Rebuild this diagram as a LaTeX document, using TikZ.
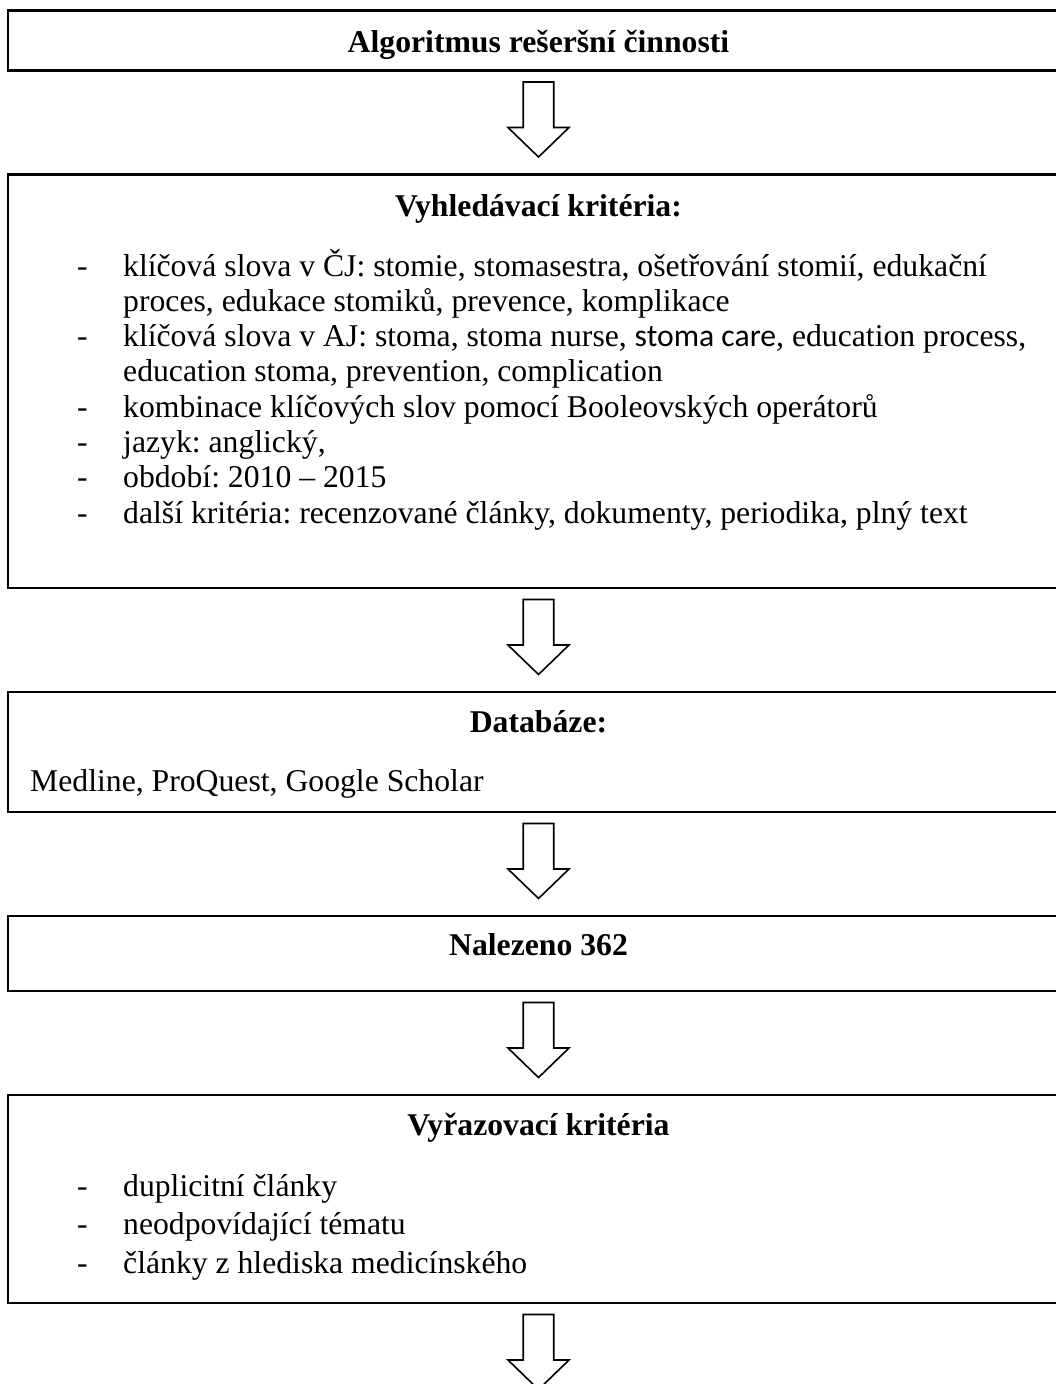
\documentclass[tikz,border=0pt]{standalone}
\usepackage{fontspec}
\setmainfont{Liberation Serif}
\newfontfamily\calibrifont{Carlito}
\usepackage{tikz}
\usetikzlibrary{positioning}
\frenchspacing

\begin{document}
\begin{tikzpicture}[x=1pt, y=1pt, node distance=104pt,
    box/.style={draw, line width=2.2pt, outer sep=0pt, inner sep=0pt, minimum width=1060.4pt},
    title/.style={anchor=base, inner sep=0pt, font=\fontsize{31.7}{35.3}\selectfont\bfseries},
    list/.style={anchor=base west, inner sep=0pt, font=\fontsize{31.7}{35.3}\selectfont},
    hollow/.style={draw, line width=1.6pt, line join=miter, fill=white}]
    \useasboundingbox (0,0) rectangle (1055,-1384);

    % Boxes
    \node [box, minimum height=60pt] (algo) at (538.5,-40.5) {};
    \node [box, minimum height=413.5pt, below=of algo] (krit) {};
    \node [box, minimum height=120pt, below=of krit] (db) {};
    \node [box, minimum height=75pt, below=of db] (nal) {};
    \node [box, minimum height=208pt, below=of nal] (vyr) {};

    % Titles
    \path (algo.north) ++(0,-41.5) node [title] (algoT) {Algoritmus rešeršní činnosti};
    \path (krit.north) ++(0,-42) node [title] (kritT) {Vyhledávací kritéria:};
    \path (db.north) ++(0,-40) node [title] (dbT) {Databáze:};
    \path (nal.north) ++(0,-39) node [title] (nalT) {Nalezeno 362};
    \path (vyr.north) ++(0,-40) node [title] (vyrT) {Vyřazovací kritéria};

    % Lists
    \path (krit.north west) ++(68.7,-101.5) node [list] (kritL) {%
      \begin{tabular}[t]{@{}p{46pt}@{}l@{}}
        - & klíčová slova v ČJ: stomie, stomasestra, ošetřování stomií, edukační\\
          & proces, edukace stomiků, prevence, komplikace\\
        - & klíčová slova v AJ: stoma, stoma nurse, {\calibrifont stoma care}, education process,\\
          & education stoma, prevention, complication\\
        - & kombinace klíčových slov pomocí Booleovských operátorů\\
        - & jazyk: anglický,\\
        - & období: 2010 – 2015\\
        - & další kritéria: recenzované články, dokumenty, periodika, plný text
      \end{tabular}};
    \path (db.north west) ++(21.7,-99.7) node [list] (dbL) {Medline, ProQuest, Google Scholar};
    \path (vyr.north west) ++(68.7,-101) node [list, font=\fontsize{31.7}{38.5}\selectfont] (vyrL) {%
      \begin{tabular}[t]{@{}p{46pt}@{}l@{}}
        - & duplicitní články\\
        - & neodpovídající tématu\\
        - & články z hlediska medicínského
      \end{tabular}};

    % Hollow arrows
    \foreach \b in {algo,krit,db,nal,vyr}
      \draw [hollow] (\b.south) ++(-15.25,-11.5) -- ++(0,-45.5) -- ++(-15.25,0)
        -- ++(30.5,-29.5) -- ++(30.5,29.5) -- ++(-15.25,0) -- ++(0,45.5) -- cycle;
\end{tikzpicture}
\end{document}
